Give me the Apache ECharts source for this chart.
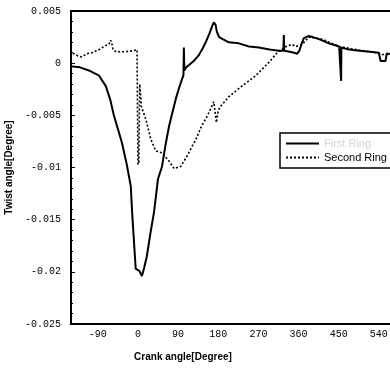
<!DOCTYPE html>
<html>
<head>
<meta charset="utf-8">
<script src="https://cdn.jsdelivr.net/npm/echarts@6/dist/echarts.min.js"></script>
<style>
  html, body { margin: 0; padding: 0; background: #fff; }
  #chart { width: 390px; height: 368px; }
</style>
</head>
<body>
<div id="chart"></div>
<script>
// Crank angle [deg] and ring twist angle [deg] samples
const firstRingAngle = [
  -152, -130, -110, -87, -72, -62, -54, -45, -36, -25, -16, -13, -9, -5, -2, 3, 9, 14, 20, 28,
  36, 45, 54, 62, 70, 78, 85, 92, 99, 102, 103, 104, 108, 114, 125, 137, 145, 152, 160, 166,
  170, 174, 177, 182, 190, 204, 226, 249, 271, 295, 316, 326, 327, 328, 340, 350, 357, 362, 368, 372,
  382, 392, 406, 428, 451, 455, 455.5, 456, 473, 496, 520, 540, 543, 544, 555, 557, 570
];
const firstRingTwist = [
  -0.0003, -0.0004, -0.0007, -0.0012, -0.0022, -0.0035, -0.005, -0.0063, -0.0076, -0.0097, -0.0118, -0.0143, -0.017, -0.0197, -0.0196, -0.0199, -0.0204, -0.0196, -0.0185, -0.0163,
  -0.0143, -0.0111, -0.0099, -0.0078, -0.006, -0.0046, -0.0034, -0.0024, -0.0015, -0.0012, 0.0015, -0.0007, -0.0004, -0.0002, 0.0002, 0.0008, 0.0014, 0.002, 0.0028, 0.0035,
  0.0039, 0.0037, 0.003, 0.0025, 0.0023, 0.002, 0.0019, 0.0016, 0.0015, 0.0013, 0.0012, 0.0012, 0.0027, 0.0012, 0.0011, 0.001, 0.0009, 0.0012, 0.002, 0.0024,
  0.0026, 0.0025, 0.0023, 0.0019, 0.0016, 0.0016, -0.0017, 0.0015, 0.0013, 0.0012, 0.0011, 0.001, 0.001, 0.0002, 0.0002, 0.0008, 0.001
];

const secondRingAngle = [
  -155, -143, -135, -126, -115, -103, -87, -72, -65, -61, -58, -56, -49, -27, -10, -2, 0, 2, 4, 8,
  18, 29, 40, 54, 70, 81, 96, 110, 130, 143, 155, 166, 170, 173, 176, 180, 186, 204, 233, 264,
  294, 312, 332, 345, 354, 368, 383, 413, 451, 489, 534, 547, 563
];
const secondRingTwist = [
  0.001, 0.0009, 0.0007, 0.0006, 0.0009, 0.001, 0.0013, 0.0017, 0.0018, 0.0022, 0.0018, 0.0013, 0.0011, 0.0011, 0.0012, 0.0013, -0.0097, -0.0095, -0.002, -0.0042,
  -0.0054, -0.0073, -0.0084, -0.0086, -0.0094, -0.0101, -0.0099, -0.0089, -0.0073, -0.006, -0.0051, -0.0041, -0.0037, -0.0037, -0.0057, -0.0045, -0.0041, -0.0032, -0.0022, -0.0012,
  0.0001, 0.001, 0.0016, 0.0018, 0.0016, 0.0018, 0.0025, 0.0023, 0.0016, 0.0013, 0.001, 0.0008, 0.001
];

const seriesNames = ['First Ring', 'Second Ring'];
const xTickStep = 90;

const pairs = (xs, ys) => xs.map((x, i) => [x, ys[i]]);

const chart = echarts.init(document.getElementById('chart'), null, { renderer: 'canvas' });

const monoFont = 'Liberation Mono';
const sansFont = 'Liberation Sans';

chart.setOption({
  animation: false,
  backgroundColor: '#fff',
  grid: {
    left: 71, top: 11, right: -29, bottom: 44,
    outerBoundsMode: 'none',
    containLabel: false,
    show: true, borderColor: '#000', borderWidth: 2
  },
  legend: {
    orient: 'vertical',
    left: 280, top: 133,
    padding: [5, 60, 5, 5],
    itemGap: 3,
    itemWidth: 33, itemHeight: 12,
    borderColor: '#000', borderWidth: 1.5,
    backgroundColor: '#fff',
    data: seriesNames,
    itemStyle: { color: 'transparent', borderWidth: 0, opacity: 0 },
    textStyle: {
      fontFamily: sansFont, fontSize: 11, color: '#000',
      rich: { faint: { fontFamily: sansFont, fontSize: 11, color: '#d4d4d4' } }
    },
    formatter: name => name === seriesNames[0] ? '{faint|' + name + '}' : name
  },
  xAxis: {
    type: 'value',
    min: -150, max: 630, interval: 30,
    name: 'Crank angle[Degree]',
    nameLocation: 'middle',
    nameGap: 28,
    nameTextStyle: {
      fontFamily: sansFont, fontSize: 10, fontWeight: 'bold', color: '#000',
      padding: [0, 124, 0, 0]
    },
    axisLine: { onZero: false, lineStyle: { color: '#000', width: 2 } },
    axisTick: { show: false },
    splitLine: { show: false },
    axisLabel: {
      fontFamily: monoFont, fontSize: 10, color: '#000', margin: 5,
      formatter: v => (v % xTickStep === 0 ? String(v) : '')
    }
  },
  yAxis: {
    type: 'value',
    min: -0.025, max: 0.005, interval: 0.005,
    name: 'Twist angle[Degree]',
    nameLocation: 'middle',
    nameGap: 52,
    nameTextStyle: { fontFamily: sansFont, fontSize: 10, fontWeight: 'bold', color: '#000' },
    axisLine: { onZero: false, lineStyle: { color: '#000', width: 2 } },
    axisTick: { inside: true, length: 4, lineStyle: { color: '#000' } },
    minorTick: { show: true, splitNumber: 5, length: 2, lineStyle: { color: '#000' } },
    splitLine: { show: false },
    axisLabel: { fontFamily: monoFont, fontSize: 10, color: '#000', margin: 10 }
  },
  series: [
    {
      name: seriesNames[0],
      type: 'line',
      data: pairs(firstRingAngle, firstRingTwist),
      symbol: 'none',
      lineStyle: { color: '#000', width: 2 },
      itemStyle: { color: '#000' }
    },
    {
      name: seriesNames[1],
      type: 'line',
      data: pairs(secondRingAngle, secondRingTwist),
      symbol: 'none',
      lineStyle: { color: '#000', width: 1.6, type: [2, 2] },
      itemStyle: { color: '#000' }
    }
  ]
});
</script>
</body>
</html>
